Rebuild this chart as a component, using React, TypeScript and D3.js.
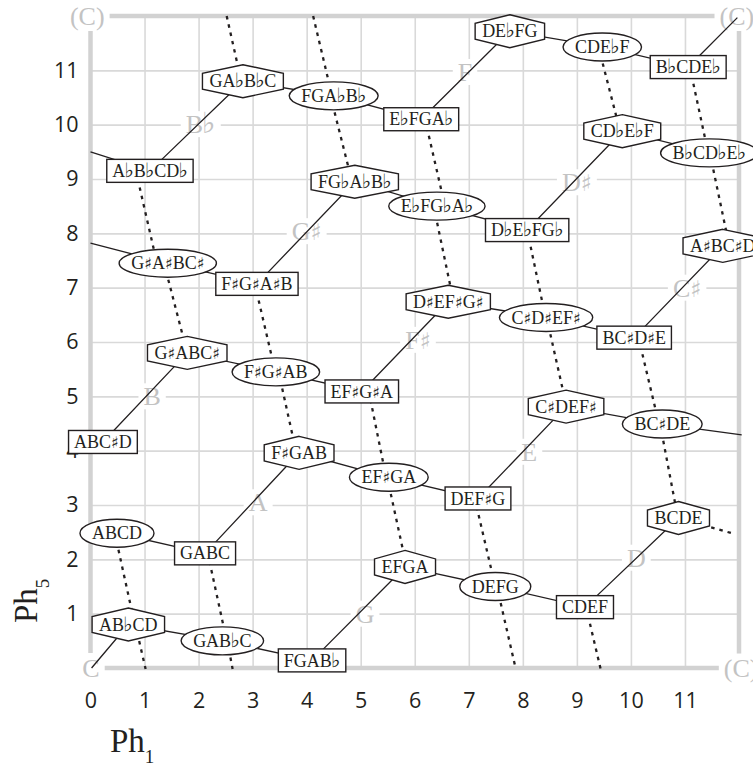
import React, { useEffect, useRef } from 'react';
import * as d3 from 'd3';

const WIDTH = 753;
const HEIGHT = 767;

const xTickValues = [0, 1, 2, 3, 4, 5, 6, 7, 8, 9, 10, 11];
const yTickValues = [1, 2, 3, 4, 5, 6, 7, 8, 9, 10, 11];
const gridValues = [1, 2, 3, 4, 5, 6, 7, 8, 9, 10, 11];

type NodeDatum = [string, number, number];

const rectNodes: NodeDatum[] = [
  ['FGAB♭', 4.1, 0.14],
  ['GABC', 2.12, 2.11],
  ['CDEF', 9.15, 1.12],
  ['DEF♯G', 7.17, 3.12],
  ['ABC♯D', 0.23, 4.16],
  ['EF♯G♯A', 5.02, 5.09],
  ['BC♯D♯E', 10.06, 6.08],
  ['F♯G♯A♯B', 3.08, 7.07],
  ['D♭E♭FG♭', 8.08, 8.06],
  ['A♭B♭CD♭', 1.1, 9.15],
  ['E♭FGA♭', 6.12, 10.1],
  ['B♭CDE♭', 11.06, 11.06],
];

const ellipseNodes: NodeDatum[] = [
  ['GAB♭C', 2.44, 0.5],
  ['ABCD', 0.49, 2.48],
  ['DEFG', 7.49, 1.5],
  ['EF♯GA', 5.52, 3.51],
  ['F♯G♯AB', 3.43, 5.45],
  ['BC♯DE', 10.58, 4.49],
  ['C♯D♯EF♯', 8.43, 6.45],
  ['G♯A♯BC♯', 1.43, 7.45],
  ['E♭FG♭A♭', 6.41, 8.5],
  ['FGA♭B♭', 4.5, 10.53],
  ['B♭CD♭E♭', 11.45, 9.48],
  ['CDE♭F', 9.47, 11.43],
];

const hexNodes: NodeDatum[] = [
  ['AB♭CD', 0.7, 0.8],
  ['EFGA', 5.82, 1.86],
  ['BCDE', 10.88, 2.76],
  ['F♯GAB', 3.86, 3.96],
  ['C♯DEF♯', 8.8, 4.81],
  ['G♯ABC♯', 1.79, 5.8],
  ['D♯EF♯G♯', 6.62, 6.74],
  ['A♯BC♯D', 11.7, 7.77],
  ['FG♭A♭B♭', 4.89, 8.95],
  ['CD♭E♭F', 9.84, 9.88],
  ['GA♭B♭C', 2.82, 10.8],
  ['DE♭FG', 7.76, 11.72],
];

type ChainPoint = string | [number, number];

const solidChains: ChainPoint[][] = [
  [[0.02, 0.0], 'AB♭CD', 'GAB♭C', 'FGAB♭', 'EFGA', 'DEFG', 'CDEF', 'BCDE'],
  ['ABCD', 'GABC', 'F♯GAB', 'EF♯GA', 'DEF♯G', 'C♯DEF♯', 'BC♯DE', [12.05, 4.29]],
  ['ABC♯D', 'G♯ABC♯', 'F♯G♯AB', 'EF♯G♯A', 'D♯EF♯G♯', 'C♯D♯EF♯', 'BC♯D♯E', 'A♯BC♯D'],
  [[0, 7.82], 'G♯A♯BC♯', 'F♯G♯A♯B', 'FG♭A♭B♭', 'E♭FG♭A♭', 'D♭E♭FG♭', 'CD♭E♭F', 'B♭CD♭E♭'],
  [[0, 9.5], 'A♭B♭CD♭', 'GA♭B♭C', 'FGA♭B♭', 'E♭FGA♭', 'DE♭FG', 'CDE♭F', 'B♭CDE♭', [11.97, 11.97]],
];

const dottedSegments: [number, number, number, number][] = [
  [2.52, 12, 2.79, 10.8],
  [4.12, 12, 4.47, 10.53],
  [4.44, 10.53, 4.84, 8.95],
  [0.84, 9.15, 1.23, 7.45],
  [1.36, 7.45, 1.79, 5.8],
  [3.04, 7.07, 3.42, 5.45],
  [3.48, 5.45, 3.81, 3.96],
  [5.15, 5.09, 5.47, 3.51],
  [5.49, 3.51, 5.85, 1.86],
  [6.19, 10.1, 6.56, 8.5],
  [6.35, 8.5, 6.72, 6.74],
  [8.08, 8.06, 8.42, 6.45],
  [8.44, 6.45, 8.81, 4.81],
  [7.11, 3.12, 7.49, 1.5],
  [7.52, 1.5, 7.87, -0.02],
  [9.17, 1.12, 9.44, -0.02],
  [9.4, 11.43, 9.8, 9.88],
  [11.09, 11.06, 11.43, 9.48],
  [11.46, 9.48, 11.82, 7.77],
  [10.14, 6.08, 10.52, 4.49],
  [10.54, 4.49, 10.87, 2.76],
  [10.88, 2.76, 11.87, 2.48],
  [0.45, 2.48, 0.82, 0.8],
  [0.83, 0.8, 1.02, -0.02],
  [2.17, 2.11, 2.52, 0.5],
  [2.53, 0.5, 2.63, -0.02],
];

const pitchLabels: NodeDatum[] = [
  ['B♭', 2.04, 10.01],
  ['G♯', 4.0, 8.04],
  ['F', 6.93, 10.97],
  ['D♯', 9.0, 8.94],
  ['C♯', 11.04, 7.0],
  ['B', 1.14, 5.0],
  ['F♯', 6.06, 6.04],
  ['E', 8.12, 3.98],
  ['A', 3.1, 3.05],
  ['G', 5.08, 1.0],
  ['D', 10.1, 2.03],
];

const cornerLabels: NodeDatum[] = [
  ['(C)', -0.06, 12],
  ['(C)', 11.96, 12],
  ['(C)', 12.04, -0.01],
  ['C', 0.01, 0],
];

const SERIF = "'Liberation Serif', 'Times New Roman', serif";
const ACC_FONT = "'DejaVu Sans', sans-serif";
const SANS = "'Open Sans', 'Noto Sans', sans-serif";
const GRAY_LABEL = '#c3c3c3';
const GRID = '#d9d9d9';
const BORDER = '#d2d2d2';
const INK = '#231f20';

function fillLabel(t: any, label: string, sharpSize: number, flatSize: number) {
  let run = '';
  const flush = () => {
    if (run) {
      t.append('tspan').text(run);
      run = '';
    }
  };
  for (const ch of Array.from(label)) {
    if (ch === '♭' || ch === '♯') {
      flush();
      const flat = ch === '♭';
      t.append('tspan')
        .attr('font-family', ACC_FONT)
        .attr('font-size', flat ? flatSize : sharpSize)
        .attr('dx', flat ? -1 : 0)
        .text(ch);
      if (flat) t.append('tspan').attr('dx', -1).text('');
    } else {
      run += ch;
    }
  }
  flush();
}

export default function App() {
  const ref = useRef<SVGSVGElement>(null);

  useEffect(() => {
    const svg = d3.select(ref.current);
    svg.selectAll('*').remove();

    const x = d3.scaleLinear().domain([0, 12]).range([90.5, 739]);
    const y = d3.scaleLinear().domain([0, 12]).range([668, 16]);

    // grid
    const gx = svg
      .append('g')
      .attr('transform', `translate(0,${y(0)})`)
      .call(d3.axisBottom(x).tickValues(gridValues).tickSize(-(y(0) - y(12))).tickFormat(() => ''));
    gx.select('.domain').remove();
    gx.selectAll('line').attr('stroke', GRID).attr('stroke-width', 1.6);
    const gy = svg
      .append('g')
      .attr('transform', `translate(${x(0)},0)`)
      .call(d3.axisLeft(y).tickValues(gridValues).tickSize(-(x(12) - x(0))).tickFormat(() => ''));
    gy.select('.domain').remove();
    gy.selectAll('line').attr('stroke', GRID).attr('stroke-width', 1.6);

    // borders
    const borders: [number, number, number, number][] = [
      [0, 0, 12, 0],
      [0, 12, 12, 12],
      [0, 0, 0, 12],
      [12, 0, 12, 12],
    ];
    svg
      .append('g')
      .selectAll('line')
      .data(borders)
      .join('line')
      .attr('x1', (d) => x(d[0]))
      .attr('y1', (d) => y(d[1]))
      .attr('x2', (d) => x(d[2]))
      .attr('y2', (d) => y(d[3]))
      .attr('stroke', BORDER)
      .attr('stroke-width', 4.5);

    // tick labels
    const ax = svg
      .append('g')
      .attr('transform', `translate(0,${y(0)})`)
      .call(d3.axisBottom(x).tickValues(xTickValues).tickSize(0).tickPadding(25).tickFormat(d3.format('d')));
    ax.select('.domain').remove();
    ax.attr('font-family', SANS).attr('font-size', 21.5);
    ax.selectAll('text').attr('fill', INK);
    const ay = svg
      .append('g')
      .attr('transform', `translate(${x(0)},0)`)
      .call(d3.axisLeft(y).tickValues(yTickValues).tickSize(0).tickPadding(12).tickFormat(d3.format('d')));
    ay.select('.domain').remove();
    ay.attr('font-family', SANS).attr('font-size', 21.5);
    ay.selectAll('text').attr('fill', INK);

    // gray pitch labels with knockouts
    const addGray = (data: NodeDatum[], padX: number, padY: number) => {
      data.forEach(([lab, px, py]) => {
        const g = svg.append('g');
        const bg = g.append('rect').attr('fill', '#fff');
        const t = g
          .append('text')
          .attr('x', x(px))
          .attr('y', y(py))
          .attr('dy', '0.34em')
          .attr('text-anchor', 'middle')
          .attr('font-family', SERIF)
          .attr('font-size', 26)
          .attr('fill', GRAY_LABEL);
        fillLabel(t, lab, 23, 29);
        const bb = (t.node() as SVGTextElement).getBBox();
        bg.attr('x', bb.x - padX)
          .attr('y', y(py) - 9 - padY)
          .attr('width', bb.width + 2 * padX)
          .attr('height', 18 + 2 * padY);
      });
    };
    addGray(pitchLabels, 5, 4);
    addGray(cornerLabels, 5, 6);

    // solid chains
    const pos = new Map<string, [number, number]>();
    [...rectNodes, ...ellipseNodes, ...hexNodes].forEach(([l, a, b]) => pos.set(l, [a, b]));
    const line = d3
      .line<ChainPoint>()
      .x((d) => x(typeof d === 'string' ? pos.get(d)![0] : d[0]))
      .y((d) => y(typeof d === 'string' ? pos.get(d)![1] : d[1]));
    svg
      .append('g')
      .selectAll('path')
      .data(solidChains)
      .join('path')
      .attr('d', (d) => line(d))
      .attr('fill', 'none')
      .attr('stroke', INK)
      .attr('stroke-width', 1.3);

    // dotted
    svg
      .append('g')
      .selectAll('line')
      .data(dottedSegments)
      .join('line')
      .attr('x1', (d) => x(d[0]))
      .attr('y1', (d) => y(d[1]))
      .attr('x2', (d) => x(d[2]))
      .attr('y2', (d) => y(d[3]))
      .attr('stroke', INK)
      .attr('stroke-width', 2.3)
      .attr('stroke-dasharray', '3.5 5');

    // nodes
    const addNodes = (data: NodeDatum[], kind: 'rect' | 'ellipse' | 'hex') => {
      data.forEach(([lab, px, py]) => {
        const cx = x(px);
        const cy = y(py);
        const g = svg.append('g');
        const t = g
          .append('text')
          .attr('x', cx)
          .attr('y', cy)
          .attr('dy', '0.34em')
          .attr('text-anchor', 'middle')
          .attr('font-family', SERIF)
          .attr('font-size', 18)
          .attr('fill', INK);
        fillLabel(t, lab, 16, 20);
        const tw = (t.node() as SVGTextElement).getBBox().width;
        let shape: any;
        if (kind === 'rect') {
          const w = tw + 11;
          const h = 23;
          shape = g.insert('rect', 'text').attr('x', cx - w / 2).attr('y', cy - h / 2).attr('width', w).attr('height', h);
        } else if (kind === 'ellipse') {
          shape = g.insert('ellipse', 'text').attr('cx', cx).attr('cy', cy).attr('rx', tw / 2 + 12).attr('ry', 14);
        } else {
          const hw = tw / 2 + 7;
          const pts: [number, number][] = [
            [cx, cy - 16.5],
            [cx + hw, cy - 8],
            [cx + hw, cy + 8],
            [cx, cy + 16.5],
            [cx - hw, cy + 8],
            [cx - hw, cy - 8],
          ];
          shape = g.insert('polygon', 'text').attr('points', pts.map((p) => p.join(',')).join(' '));
        }
        shape.attr('fill', '#fff').attr('stroke', INK).attr('stroke-width', 1.4);
      });
    };
    addNodes(rectNodes, 'rect');
    addNodes(ellipseNodes, 'ellipse');
    addNodes(hexNodes, 'hex');

    // axis titles
    const tx = svg
      .append('text')
      .attr('x', 110)
      .attr('y', 752)
      .attr('font-family', SERIF)
      .attr('font-size', 33)
      .attr('fill', INK);
    tx.append('tspan').text('Ph');
    tx.append('tspan').attr('font-size', 19).attr('dy', 11).text('1');

    const ty = svg
      .append('text')
      .attr('transform', 'translate(37,623) rotate(-90)')
      .attr('font-family', SERIF)
      .attr('font-size', 33)
      .attr('fill', INK);
    ty.append('tspan').text('Ph');
    ty.append('tspan').attr('font-size', 19).attr('dy', 12).text('5');
  }, []);

  return (
    <svg
      ref={ref}
      width={WIDTH}
      height={HEIGHT}
      style={{ position: 'absolute', left: 0, top: 0, background: '#fff' }}
    />
  );
}
